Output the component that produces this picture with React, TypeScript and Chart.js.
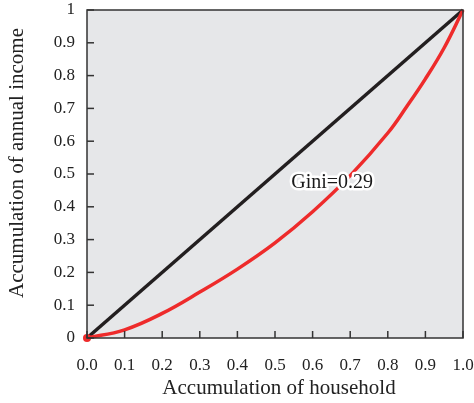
import React, { useEffect, useRef } from "react";
import { Chart, registerables } from "chart.js";

Chart.register(...registerables);

const lorenzX = [0, 0.1, 0.2, 0.3, 0.4, 0.5, 0.6, 0.7, 0.8, 0.85, 0.9, 0.95, 1];
const lorenzY = [0, 0.025, 0.075, 0.14, 0.21, 0.29, 0.385, 0.495, 0.625, 0.705, 0.79, 0.885, 1];
const equalityX = [0, 1];
const equalityY = [0, 1];
const xTickLabels = ["0.0", "0.1", "0.2", "0.3", "0.4", "0.5", "0.6", "0.7", "0.8", "0.9", "1.0"];
const yTickLabels = ["0", "0.1", "0.2", "0.3", "0.4", "0.5", "0.6", "0.7", "0.8", "0.9", "1"];
const xTitle = "Accumulation of household";
const yTitle = "Accumulation of annual income";
const giniText = "Gini=0.29";
const giniAt = { x: 0.652, y: 0.473 };

const FONT = "'Liberation Serif', 'Times New Roman', serif";

const framePlugin = {
  id: "frame",
  beforeDraw(chart: any) {
    const { ctx, chartArea: a } = chart;
    ctx.save();
    ctx.fillStyle = "#e6e7e9";
    ctx.fillRect(a.left, a.top, a.right - a.left, a.bottom - a.top);
    ctx.restore();
  },
  afterDatasetsDraw(chart: any) {
    const { ctx, chartArea: a, scales } = chart;
    ctx.save();
    ctx.strokeStyle = "#333333";
    ctx.lineWidth = 1.5;
    ctx.strokeRect(a.left, a.top, a.right - a.left, a.bottom - a.top);
    const len = 7;
    scales.x.ticks.forEach((t: any) => {
      const px = scales.x.getPixelForValue(t.value);
      ctx.beginPath();
      ctx.moveTo(px, a.bottom);
      ctx.lineTo(px, a.bottom - len);
      ctx.stroke();
    });
    scales.y.ticks.forEach((t: any) => {
      const py = scales.y.getPixelForValue(t.value);
      ctx.beginPath();
      ctx.moveTo(a.left, py);
      ctx.lineTo(a.left + len, py);
      ctx.stroke();
    });
    // gini label
    const lx = scales.x.getPixelForValue(giniAt.x);
    const ly = scales.y.getPixelForValue(giniAt.y);
    ctx.font = `20px ${FONT}`;
    ctx.textAlign = "center";
    ctx.textBaseline = "middle";
    ctx.lineJoin = "round";
    ctx.strokeStyle = "#ffffff";
    ctx.lineWidth = 5;
    ctx.strokeText(giniText, lx, ly);
    ctx.fillStyle = "#1a1a1a";
    ctx.fillText(giniText, lx, ly);
    // axis titles
    ctx.fillStyle = "#222";
    ctx.font = `21px ${FONT}`;
    ctx.fillText(xTitle, (a.left + a.right) / 2 + 4, a.bottom + 50);
    ctx.save();
    ctx.translate(17, (a.top + a.bottom) / 2 - 11);
    ctx.rotate(-Math.PI / 2);
    ctx.fillText(yTitle, 0, 0);
    ctx.restore();
    ctx.restore();
  },
};

const zeroPad = (s: any) => {
  s.paddingTop = 0;
  s.paddingBottom = 0;
  s.paddingLeft = 0;
  s.paddingRight = 0;
};

export default function App() {
  const ref = useRef<HTMLCanvasElement>(null);
  useEffect(() => {
    const chart = new Chart(ref.current!, {
      type: "scatter",
      data: {
        datasets: [
          {
            data: equalityX.map((x, i) => ({ x, y: equalityY[i] })),
            showLine: true,
            borderColor: "#231f20",
            borderWidth: 3.5,
            pointRadius: 0,
            order: 2,
          },
          {
            data: lorenzX.map((x, i) => ({ x, y: lorenzY[i] })),
            showLine: true,
            borderColor: "#ee2b2b",
            backgroundColor: "#ee2b2b",
            borderWidth: 3.5,
            tension: 0.4,
            pointRadius: (c: any) => (c.dataIndex === 0 ? 4 : 0),
            pointBorderWidth: 0,
            order: 1,
          },
        ],
      },
      plugins: [framePlugin],
      options: {
        animation: false,
        responsive: false,
        clip: false,
        layout: { padding: { top: 10, right: 11, left: 0, bottom: 0 } },
        plugins: { legend: { display: false }, tooltip: { enabled: false } },
        scales: {
          x: {
            type: "linear",
            min: 0,
            max: 1,
            border: { display: false },
            grid: { display: false, drawTicks: false },
            ticks: {
              stepSize: 0.1,
              padding: 17,
              color: "#222",
              font: { family: FONT, size: 17 },
              callback: (v: any, i: number) => xTickLabels[i],
              maxRotation: 0,
            },
            afterFit: (s: any) => {
              s.height = 65;
              zeroPad(s);
            },
          },
          y: {
            type: "linear",
            min: 0,
            max: 1,
            border: { display: false },
            grid: { display: false, drawTicks: false },
            ticks: {
              stepSize: 0.1,
              padding: 12,
              color: "#222",
              font: { family: FONT, size: 17 },
              callback: (v: any, i: number) => yTickLabels[i],
            },
            afterFit: (s: any) => {
              s.width = 87;
              zeroPad(s);
            },
          },
        },
      },
    } as any);
    return () => chart.destroy();
  }, []);
  return (
    <div style={{ position: "fixed", left: 0, top: 0, width: 474, height: 403, background: "#fff" }}>
      <canvas ref={ref} width={474} height={403} />
    </div>
  );
}
